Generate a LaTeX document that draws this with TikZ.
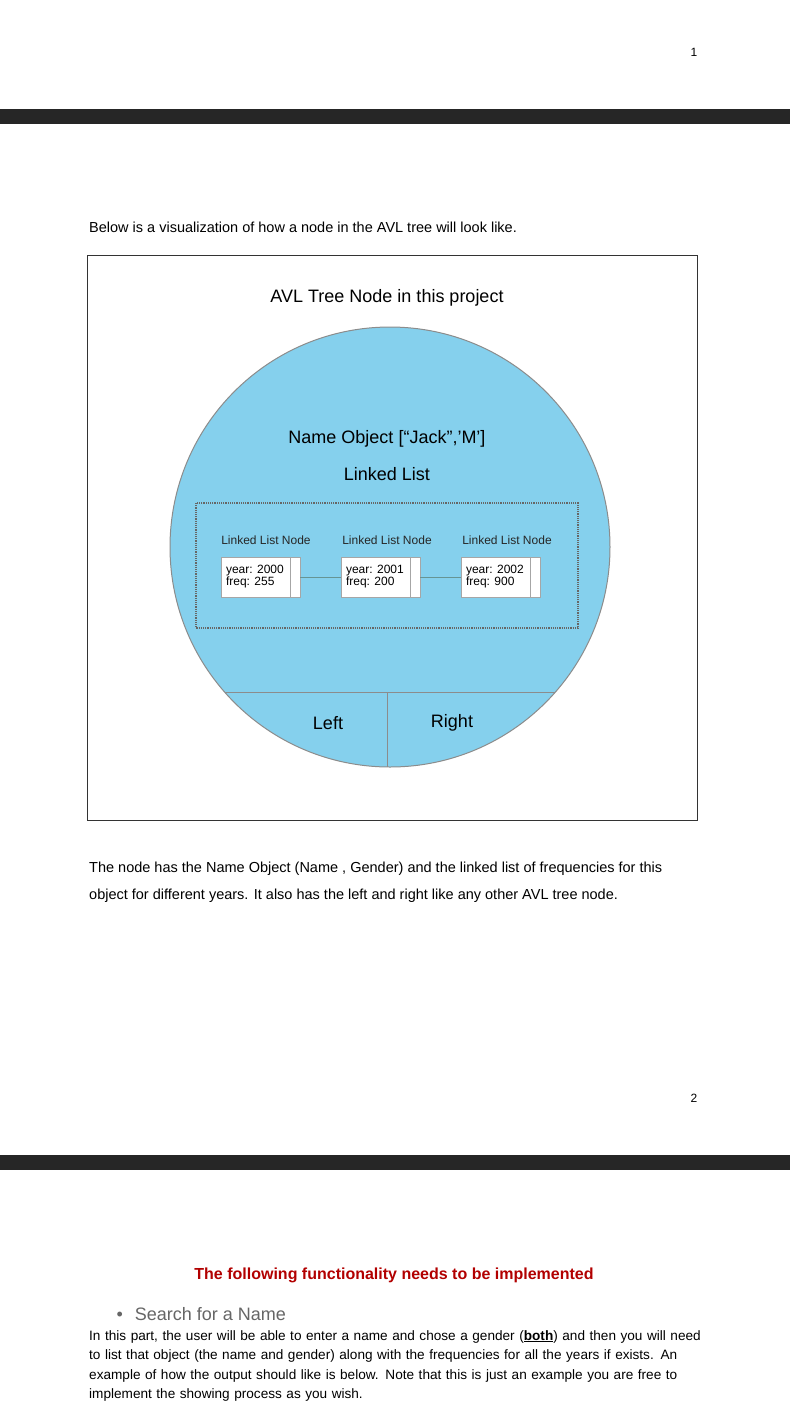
\documentclass[tikz,border=0pt]{standalone}
\usepackage{fontspec}
\setmainfont{Liberation Sans}
\begin{document}
\begin{tikzpicture}[x=1pt,y=-1pt,
  body/.style={anchor=west,font=\fontsize{14.5}{26}\selectfont,inner sep=0},
  lln/.style={font=\fontsize{12}{12}\selectfont,text=black!85},
  cell/.style={draw=black!35,fill=white,minimum width=79pt,minimum height=40pt,inner sep=0},
  celltxt/.style={anchor=west,align=left,font=\fontsize{12}{12}\selectfont,inner sep=0}]
\useasboundingbox (0,0) rectangle (790,1414);
\fill[white] (0,0) rectangle (790,1414);
\fill[black!85] (0,109) rectangle (790,124);
\fill[black!85] (0,1155) rectangle (790,1170);
\node[font=\fontsize{12}{12}\selectfont] (p1) at (694,52) {1};
\node[font=\fontsize{12}{12}\selectfont] (p2) at (694,1098) {2};
\node[body] (intro) at (89,227) {Below is a visualization of how a node in the AVL tree will look like.};
\draw[black!80,line width=1pt] (87,255) rectangle (697,820);
\node[font=\fontsize{18}{18}\selectfont] (title) at (387,298) {AVL Tree Node in this project};
\fill[cyan!45!white!90!teal] (390,547) circle (220);
\draw[black!45,line width=1pt] (390,547) circle (220);
\begin{scope}
\clip (390,547) circle (220);
\draw[black!45,line width=1pt] (170,692) -- (610,692);
\draw[black!45,line width=1pt] (387,692) -- (387,770);
\end{scope}
\node[font=\fontsize{18}{18}\selectfont] (name) at (387,439) {Name Object [“Jack”,’M’]};
\node[font=\fontsize{18}{18}\selectfont] (ll) at (387,474) {Linked List};
\draw[black!60,densely dotted,line width=1.2pt] (196,503) rectangle (578,628);
\node[lln] (h1) at (266,540) {Linked List Node};
\node[lln] (h2) at (387,540) {Linked List Node};
\node[lln] (h3) at (507,540) {Linked List Node};
\node[cell] (c1) at (260.5,577) {};
\node[cell] (c2) at (380.5,577) {};
\node[cell] (c3) at (500.5,577) {};
\foreach \c in {c1,c2,c3}{\draw[black!35] ([xshift=-10pt]\c.north east) -- ([xshift=-10pt]\c.south east);}
\node[celltxt] at ([xshift=5pt]c1.west) {year: 2000\\freq: 255};
\node[celltxt] at ([xshift=5pt]c2.west) {year: 2001\\freq: 200};
\node[celltxt] at ([xshift=5pt]c3.west) {year: 2002\\freq: 900};
\draw[teal!60!black!60] (c1.east) -- (c2.west);
\draw[teal!60!black!60] (c2.east) -- (c3.west);
\node[font=\fontsize{18}{18}\selectfont] (left) at (328,723) {Left};
\node[font=\fontsize{18}{18}\selectfont] (right) at (452,723) {Right};
\node[body] (d1) at (89,869) {The node has the Name Object (Name , Gender) and the linked list of frequencies for this};
\node[body] (d2) at (89,896) {object for different years. It also has the left and right like any other AVL tree node.};
\node[font=\bfseries\fontsize{16}{16}\selectfont,text=red!70!black] (head) at (394,1275) {The following functionality needs to be implemented};
\node[anchor=west,font=\fontsize{18}{18}\selectfont,text=black!60] (bul) at (113,1314) {•\hspace{12pt}Search for a Name};
\node[anchor=north west,align=left,inner sep=0,font=\fontsize{13.6}{19.5}\selectfont,text width=612pt] (para) at (89,1330)
{In this part, the user will be able to enter a name and chose a gender (\underline{\textbf{both}}) and then you will need to list that object (the name and gender) along with the frequencies for all the years if exists. An example of how the output should like is below. Note that this is just an example you are free to implement the showing process as you wish.};
\end{tikzpicture}
\end{document}
